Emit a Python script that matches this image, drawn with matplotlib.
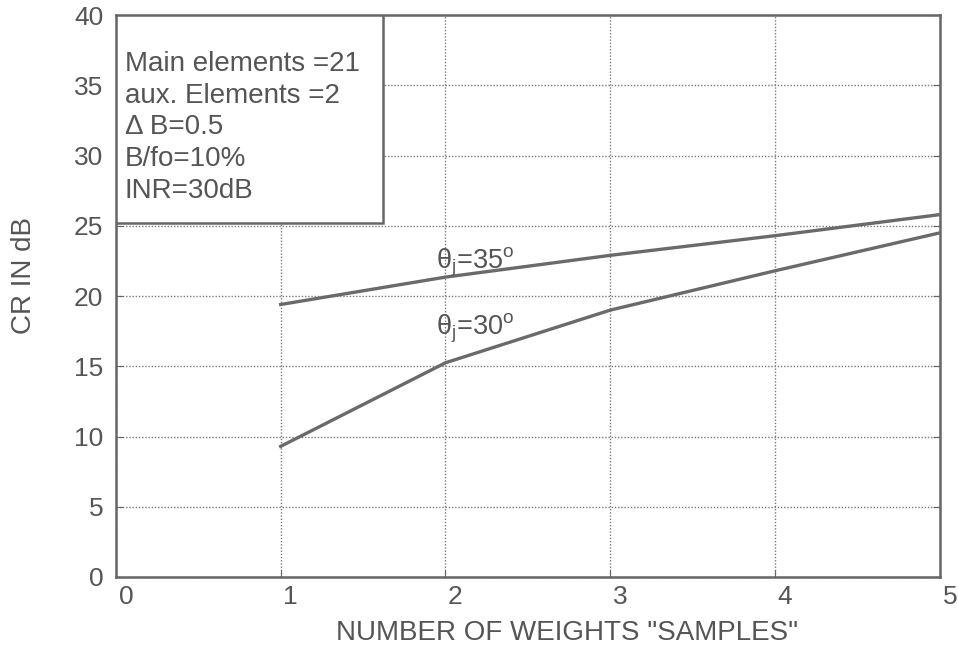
import matplotlib
matplotlib.use('Agg')
import matplotlib.pyplot as plt
from matplotlib.patches import Rectangle
from matplotlib.transforms import ScaledTranslation

plt.rcParams['font.family'] = ['Liberation Sans', 'DejaVu Sans']
plt.rcParams['mathtext.fontset'] = 'custom'
plt.rcParams['mathtext.rm'] = 'Liberation Sans'
plt.rcParams['mathtext.it'] = 'Liberation Sans'

# data
weights = [1, 2, 3, 4, 5]
cr_35 = [19.4, 21.35, 22.9, 24.3, 25.8]
cr_30 = [9.3, 15.25, 19.0, 21.8, 24.5]
x_ticks = [0, 1, 2, 3, 4, 5]
y_ticks = [0, 5, 10, 15, 20, 25, 30, 35, 40]
info_lines = ['Main elements =21', 'aux. Elements =2', '\u0394 B=0.5',
              'B/fo=10%', 'INR=30dB']

ink = '#555555'
line_col = '#6a6a6a'

fig = plt.figure(figsize=(9.58, 6.48), dpi=100)
ax = fig.add_axes([0.121, 0.1096, 0.860, 0.867])

ax.plot(weights, cr_35, color=line_col, lw=2.4, zorder=3)
ax.plot(weights, cr_30, color=line_col, lw=2.4, zorder=3)

ax.set_xlim(0, 5)
ax.set_ylim(0, 40)
ax.set_xticks(x_ticks)
ax.set_yticks(y_ticks)
ax.grid(True, linestyle=(0, (1, 1.3)), color='#7a7a7a', lw=1.0)
for sp in ax.spines.values():
    sp.set_color('#666666')
    sp.set_linewidth(1.8)
ax.tick_params(direction='in', length=5, color='#666666', right=True,
               labelsize=19, labelcolor=ink)
ax.tick_params(axis='y', pad=9)
ax.tick_params(axis='x', pad=6)

# the scanned x tick labels sit a little right of their ticks
shift = ScaledTranslation(10 / 100, 0, fig.dpi_scale_trans)
for lbl in ax.get_xticklabels():
    lbl.set_transform(lbl.get_transform() + shift)

ax.set_xlabel('NUMBER OF WEIGHTS "SAMPLES"', fontsize=20, color=ink)
ax.xaxis.label.set_va('center')
ax.xaxis.set_label_coords(0.547, -0.0996)
ax.set_ylabel('CR IN dB', fontsize=20, color=ink)
ax.yaxis.label.set_va('center')
ax.yaxis.set_label_coords(-0.112, 0.537)

# info box in the upper left corner
ax.add_patch(Rectangle((0, 25.2), 1.62, 14.8, facecolor='white',
                       edgecolor='#666666', lw=1.8, zorder=4))
for i, txt in enumerate(info_lines):
    ax.text(0.055, 36.55 - i * 2.27, txt, fontsize=20, color=ink,
            va='center', ha='left', zorder=5)

ax.text(1.94, 22.4, r'$\mathrm{\theta_j}$=35$^\mathrm{o}$', fontsize=19.5,
        color=ink, va='center', ha='left', zorder=5)
ax.text(1.94, 17.7, r'$\mathrm{\theta_j}$=30$^\mathrm{o}$', fontsize=19.5,
        color=ink, va='center', ha='left', zorder=5)

fig.savefig('out.png', dpi=100)
